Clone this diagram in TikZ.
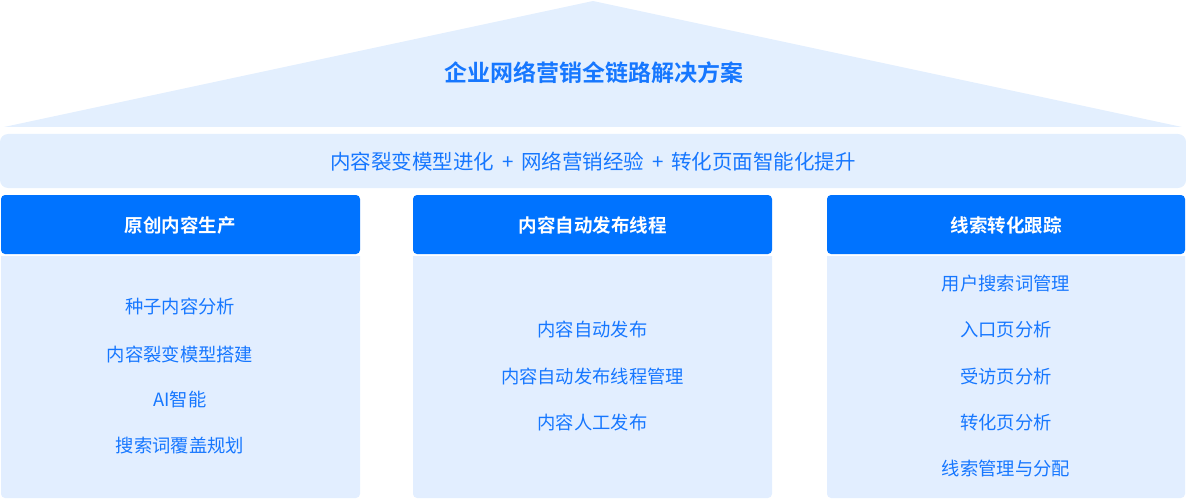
\documentclass[tikz,border=0pt]{standalone}
\usepackage{fontspec}
\setmainfont{Noto Sans CJK SC}
\newfontfamily\cjkb{Noto Sans CJK SC Bold}
\definecolor{hdrblue}{HTML}{0073FF}
\definecolor{txtblue}{HTML}{1677FF}
\definecolor{lightbg}{HTML}{E3EFFE}
\definecolor{bodybg}{HTML}{E2EEFF}
\tikzset{
  roof/.style={fill=lightbg, draw=none},
  band/.style={fill=lightbg, draw=none, rounded corners=8pt},
  hdrbox/.style={fill=hdrblue, draw=none, rounded corners=4pt},
  bodybox/.style={fill=bodybg, draw=none},
  titletxt/.style={font=\cjkb\fontsize{23}{27}\selectfont, text=txtblue},
  bandtxt/.style={font=\fontsize{20.5}{24}\selectfont, text=txtblue},
  hdrtxt/.style={font=\cjkb\fontsize{18.5}{22}\selectfont, text=white},
  itemtxt/.style={font=\fontsize{18.3}{22}\selectfont, text=txtblue},
}
\newcommand{\plussep}{\hspace{0.38em}+\hspace{0.38em}}
\begin{document}
\begin{tikzpicture}[x=1pt,y=-1pt]
\useasboundingbox (0,0) rectangle (1186,500);
% roof
\path[roof] (4,127) -- (593,1) -- (1182,127) -- cycle;
\node[titletxt] (title) at (594,73) {企业网络营销全链路解决方案};
% band
\path[band] (0,134) rectangle (1186,188);
\node[bandtxt] (bandt) at (593,162) {内容裂变模型进化\plussep 网络营销经验\plussep 转化页面智能化提升};
% columns
\foreach \l/\r/\n in {1/360/a, 413/772/b, 827/1185/c}{
  \path[bodybox] (\l,256) -- (\r,256) -- (\r,494) arc[start angle=0,end angle=90,radius=4] -- (\l+4,498)
     arc[start angle=90,end angle=180,radius=4] -- cycle;
  \path[hdrbox] (\l,195) rectangle (\r,254);
}
\node[hdrtxt] (h1) at (180,225) {原创内容生产};
\node[hdrtxt] (h2) at (592.5,225) {内容自动发布线程};
\node[hdrtxt] (h3) at (1006,225) {线索转化跟踪};
% column 1
\node[itemtxt] (a1) at (180,307) {种子内容分析};
\node[itemtxt] (a2) at (180,354) {内容裂变模型搭建};
\node[itemtxt] (a3) at (180,400) {AI智能};
\node[itemtxt] (a4) at (180,446) {搜索词覆盖规划};
% column 2
\node[itemtxt] (b1) at (592.5,330) {内容自动发布};
\node[itemtxt] (b2) at (592.5,377) {内容自动发布线程管理};
\node[itemtxt] (b3) at (592.5,423) {内容人工发布};
% column 3
\node[itemtxt] (c1) at (1006,284) {用户搜索词管理};
\node[itemtxt] (c2) at (1006,330) {入口页分析};
\node[itemtxt] (c3) at (1006,377) {受访页分析};
\node[itemtxt] (c4) at (1006,423) {转化页分析};
\node[itemtxt] (c5) at (1006,469) {线索管理与分配};
\end{tikzpicture}
\end{document}
